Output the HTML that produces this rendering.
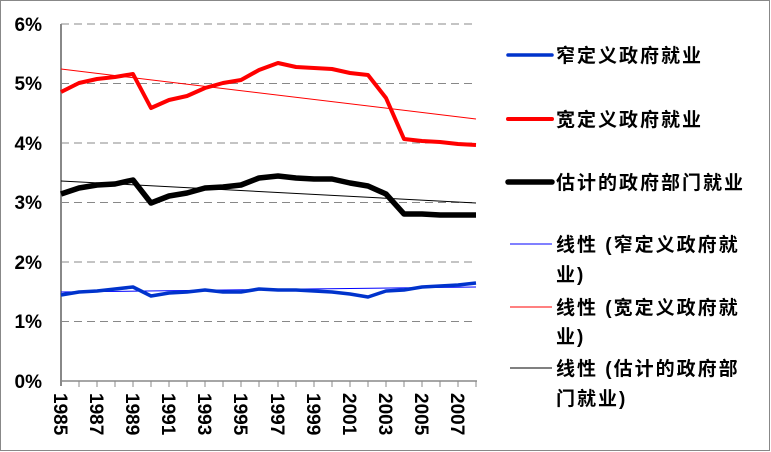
<!DOCTYPE html>
<html><head><meta charset="utf-8"><style>
html,body{margin:0;padding:0;background:#fff}
svg{display:block}
.t{font-family:"Liberation Sans",sans-serif;font-weight:bold;font-size:19px;fill:#000}
.c{font-family:"Liberation Sans","Noto Sans CJK SC",sans-serif;font-weight:bold;font-size:19px;letter-spacing:2px;fill:#000}
</style></head><body>
<svg width="771" height="452" viewBox="0 0 771 452">
<rect x="0.5" y="0.5" width="769" height="450" fill="#fff" stroke="#888" stroke-width="1"/>
<g stroke="#888" stroke-width="1" stroke-dasharray="8,5">
<line x1="61" y1="24" x2="477" y2="24"/>
<line x1="61" y1="83.5" x2="477" y2="83.5"/>
<line x1="61" y1="143" x2="477" y2="143"/>
<line x1="61" y1="202.5" x2="477" y2="202.5"/>
<line x1="61" y1="262" x2="477" y2="262"/>
<line x1="61" y1="321.5" x2="477" y2="321.5"/>
</g>
<line x1="61" y1="381" x2="477" y2="381" stroke="#888" stroke-width="1.5"/>
<line x1="61" y1="24" x2="61" y2="386" stroke="#888" stroke-width="2"/>
<g stroke="#888" stroke-width="1">
<line x1="79" y1="381" x2="79" y2="387"/><line x1="97" y1="381" x2="97" y2="387"/><line x1="115" y1="381" x2="115" y2="387"/><line x1="133" y1="381" x2="133" y2="387"/><line x1="151" y1="381" x2="151" y2="387"/><line x1="169" y1="381" x2="169" y2="387"/><line x1="187" y1="381" x2="187" y2="387"/><line x1="205" y1="381" x2="205" y2="387"/><line x1="223" y1="381" x2="223" y2="387"/><line x1="241" y1="381" x2="241" y2="387"/><line x1="259" y1="381" x2="259" y2="387"/><line x1="278" y1="381" x2="278" y2="387"/><line x1="296" y1="381" x2="296" y2="387"/><line x1="314" y1="381" x2="314" y2="387"/><line x1="332" y1="381" x2="332" y2="387"/><line x1="350" y1="381" x2="350" y2="387"/><line x1="368" y1="381" x2="368" y2="387"/><line x1="386" y1="381" x2="386" y2="387"/><line x1="404" y1="381" x2="404" y2="387"/><line x1="422" y1="381" x2="422" y2="387"/><line x1="440" y1="381" x2="440" y2="387"/><line x1="458" y1="381" x2="458" y2="387"/><line x1="476" y1="381" x2="476" y2="387"/>
</g>
<g class="t" text-anchor="end">
<text x="42" y="31">6%</text><text x="42" y="90">5%</text><text x="42" y="150">4%</text><text x="42" y="209">3%</text><text x="42" y="269">2%</text><text x="42" y="328">1%</text><text x="42" y="388">0%</text>
</g>
<g class="t">
<text transform="translate(54,393) rotate(90)">1985</text>
<text transform="translate(90,393) rotate(90)">1987</text>
<text transform="translate(126,393) rotate(90)">1989</text>
<text transform="translate(162,393) rotate(90)">1991</text>
<text transform="translate(198,393) rotate(90)">1993</text>
<text transform="translate(234,393) rotate(90)">1995</text>
<text transform="translate(271,393) rotate(90)">1997</text>
<text transform="translate(307,393) rotate(90)">1999</text>
<text transform="translate(343,393) rotate(90)">2001</text>
<text transform="translate(379,393) rotate(90)">2003</text>
<text transform="translate(415,393) rotate(90)">2005</text>
<text transform="translate(451,393) rotate(90)">2007</text>
</g>
<line x1="61" y1="69" x2="476" y2="119" stroke="#f00" stroke-width="1"/>
<line x1="61" y1="181" x2="476" y2="203" stroke="#000" stroke-width="1"/>
<line x1="61" y1="292" x2="476" y2="287" stroke="#00f" stroke-width="1"/>
<polyline fill="none" stroke="#f00" stroke-width="4" stroke-linejoin="round" points="61,92 79,83 97,79 115,77 133,74 151,108 169,100 187,96 205,88 223,83 241,80 259,70 278,63 296,67 314,68 332,69 350,73 368,75 386,98 404,139 422,141 440,142 458,144 476,145"/>
<polyline fill="none" stroke="#000" stroke-width="5.5" stroke-linejoin="round" points="61,194 79,188 97,185 115,184 133,180 151,203 169,196 187,193 205,188 223,187 241,185 259,178 278,176 296,178 314,179 332,179 350,183 368,186 386,194 404,214 422,214 440,215 458,215 476,215"/>
<polyline fill="none" stroke="#0033cc" stroke-width="3.5" stroke-linejoin="round" points="61,295 79,292 97,291 115,289 133,287 151,296 169,293 187,292 205,290 223,292 241,292 259,289 278,290 296,290 314,291 332,292 350,294 368,297 386,291 404,290 422,287 440,286 458,285 476,283"/>
<line x1="508" y1="55" x2="552" y2="55" stroke="#0033cc" stroke-width="3.5" stroke-linecap="round"/>
<line x1="508" y1="119" x2="552" y2="119" stroke="#f00" stroke-width="4" stroke-linecap="round"/>
<line x1="508" y1="182" x2="552" y2="182" stroke="#000" stroke-width="5.5" stroke-linecap="round"/>
<line x1="510" y1="244" x2="552" y2="244" stroke="#00f" stroke-width="1"/>
<line x1="510" y1="307" x2="552" y2="307" stroke="#f00" stroke-width="1"/>
<line x1="510" y1="368" x2="552" y2="368" stroke="#000" stroke-width="1"/>
<g class="c">
<text x="556" y="62">窄定义政府就业</text>
<text x="556" y="126">宽定义政府就业</text>
<text x="556" y="189">估计的政府部门就业</text>
<text x="556" y="251">线性 (窄定义政府就</text>
<text x="556" y="281">业)</text>
<text x="556" y="314">线性 (宽定义政府就</text>
<text x="556" y="343">业)</text>
<text x="556" y="375">线性 (估计的政府部</text>
<text x="556" y="405">门就业)</text>
</g>
</svg>
</body></html>
